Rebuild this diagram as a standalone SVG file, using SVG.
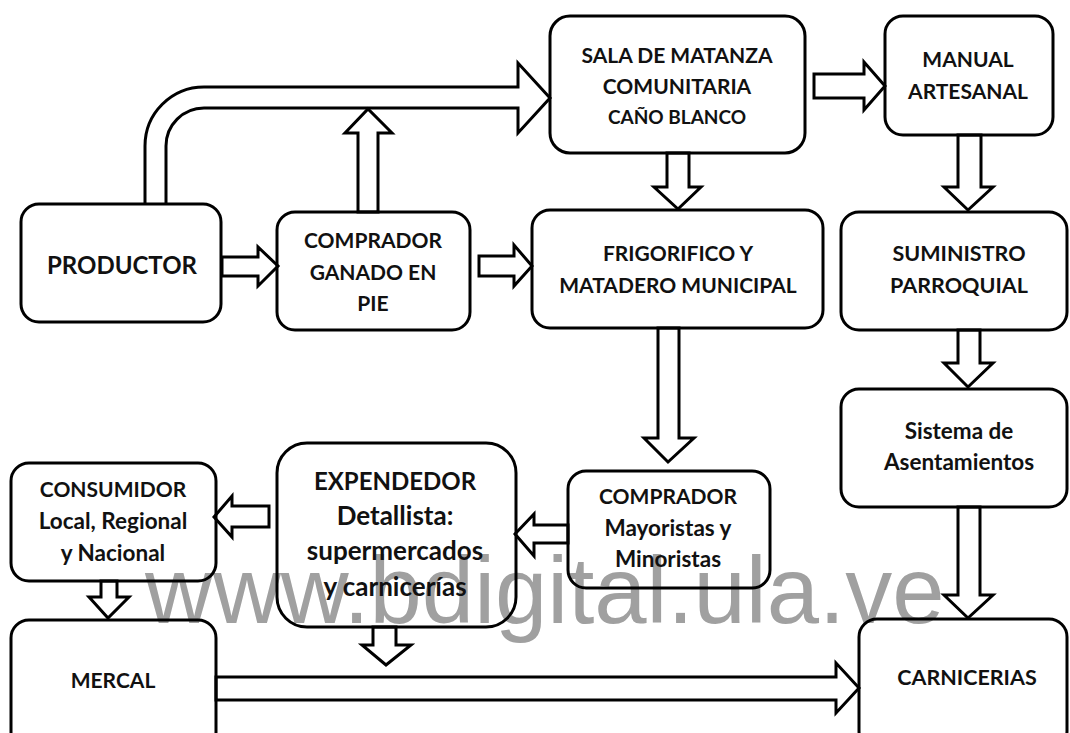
<svg xmlns="http://www.w3.org/2000/svg" width="1070" height="733" viewBox="0 0 1070 733">
<style>
.box{fill:none;stroke:#000;stroke-width:3}
.arr{fill:#fff;stroke:#000;stroke-width:3;stroke-linejoin:miter}
.t{font-family:Lato,"Open Sans","Liberation Sans",sans-serif;font-weight:bold;fill:#111;text-anchor:middle}
.wm{font-family:"Liberation Sans",Arial,sans-serif;fill:#a0a0a0;font-size:94px}
</style>
<rect width="1070" height="733" fill="#fff"/>
<text class="wm" x="145" y="623">www.bdigital.ula.ve</text>
<g id="connectors">
<path class="arr" fill="none" d="M145,204 V146 A59,59 0 0 1 204,87 H518 V63 L550,98 L518,133 V108 H204 A38,38 0 0 0 166,146 V204"/>
<path class="arr" d="M358,212 V133 H345 L368,109 L392,133 H378 V212 Z"/>
<path class="arr" d="M222,257 H258 V247 L278,266 L258,286 V276 H222 Z"/>
<path class="arr" d="M479,256 H514 V245 L532,266 L514,286 V276 H479 Z"/>
<path class="arr" d="M814,74 H864 V62 L885,86 L864,110 V98 H814 Z"/>
<path class="arr" d="M667,153 V187 H654 L678,209 L701,187 H689 V153 Z"/>
<path class="arr" d="M958,135 V187 H944 L968,210 L993,187 H981 V135 Z"/>
<path class="arr" d="M658,328 V438 H644 L668,462 L694,438 H679 V328 Z"/>
<path class="arr" d="M958,330 V363 H944 L968,387 L993,363 H980 V330 Z"/>
<path class="arr" d="M958,507 V595 H944 L968,618 L993,595 H980 V507 Z"/>
<path class="arr" d="M568,525 H534 V514 L515,534 L534,556 V543 H568 Z"/>
<path class="arr" d="M269,506 H232 V496 L214,517 L232,537 V527 H269 Z"/>
<path class="arr" d="M101,581 V597 H89 L108,618 L129,597 H117 V581 Z"/>
<path class="arr" d="M373,627 V645 H362 L386,665 L411,645 H396 V627 Z"/>
<path class="arr" d="M216,677 H836 V663 L859,688 L836,713 V700 H216 Z"/>
</g>
<g id="productor"><rect class="box" x="21" y="204" width="200" height="118" rx="18"/>
<text class="t" x="122" y="274" font-size="24">PRODUCTOR</text></g>
<g id="comprador-ganado"><rect class="box" x="277" y="212" width="193" height="118" rx="18"/>
<text class="t" font-size="21"><tspan x="373" y="248">COMPRADOR</tspan><tspan x="373" y="280">GANADO EN</tspan><tspan x="373" y="311">PIE</tspan></text></g>
<g id="sala"><rect class="box" x="550" y="16" width="255" height="137" rx="20"/>
<text class="t" font-size="21"><tspan x="677" y="63">SALA DE MATANZA</tspan><tspan x="677" y="94">COMUNITARIA</tspan><tspan x="677" y="124" font-size="19">CAÑO BLANCO</tspan></text></g>
<g id="manual"><rect class="box" x="885" y="16" width="168" height="119" rx="18"/>
<text class="t" font-size="21"><tspan x="968" y="67">MANUAL</tspan><tspan x="968" y="99">ARTESANAL</tspan></text></g>
<g id="frigorifico"><rect class="box" x="532" y="210" width="291" height="118" rx="18"/>
<text class="t" font-size="21"><tspan x="678" y="261">FRIGORIFICO Y</tspan><tspan x="678" y="293">MATADERO  MUNICIPAL</tspan></text></g>
<g id="suministro"><rect class="box" x="841" y="212" width="226" height="118" rx="18"/>
<text class="t" font-size="21.5"><tspan x="959" y="261">SUMINISTRO</tspan><tspan x="959" y="293">PARROQUIAL</tspan></text></g>
<g id="sistema"><rect class="box" x="841" y="389" width="226" height="118" rx="18"/>
<text class="t" font-size="22.5"><tspan x="959" y="439">Sistema de</tspan><tspan x="959" y="470">Asentamientos</tspan></text></g>
<g id="comprador-mayoristas"><rect class="box" x="568" y="471" width="202" height="117" rx="18"/>
<text class="t" font-size="22.5"><tspan x="668" y="504" font-size="21">COMPRADOR</tspan><tspan x="668" y="536">Mayoristas y</tspan><tspan x="668" y="567">Minoristas</tspan></text></g>
<g id="expendedor"><rect class="box" x="277" y="443" width="239" height="184" rx="30"/>
<text class="t" font-size="26"><tspan x="395" y="490" font-size="24">EXPENDEDOR</tspan><tspan x="395" y="525">Detallista:</tspan><tspan x="395" y="560">supermercados</tspan><tspan x="395" y="596">y carnicerías</tspan></text></g>
<g id="consumidor"><rect class="box" x="11" y="463" width="205" height="118" rx="18"/>
<text class="t" font-size="22.5"><tspan x="113" y="497" font-size="21">CONSUMIDOR</tspan><tspan x="113" y="529">Local, Regional</tspan><tspan x="113" y="561">y Nacional</tspan></text></g>
<g id="mercal"><rect class="box" x="11" y="620" width="205" height="130" rx="18"/>
<text class="t" x="113" y="688" font-size="21">MERCAL</text></g>
<g id="carnicerias"><rect class="box" x="859" y="619" width="208" height="130" rx="18"/>
<text class="t" x="967" y="685" font-size="21.5">CARNICERIAS</text></g>
</svg>
